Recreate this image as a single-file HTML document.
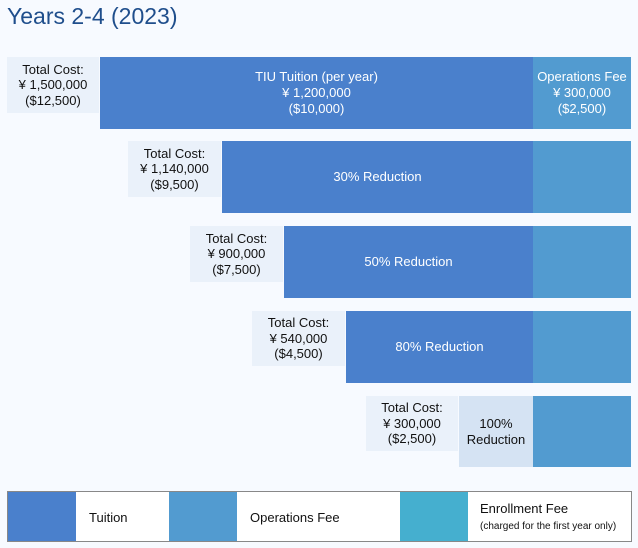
<!DOCTYPE html>
<html><head><meta charset="utf-8"><style>
body{margin:0;width:638px;height:548px;background:#f7faff;font-family:"Liberation Sans","Noto Sans CJK JP",sans-serif;position:relative;overflow:hidden}
div{position:absolute;box-sizing:border-box}
.t{background:#4a80cc;color:#fff;display:flex;align-items:center;justify-content:center;text-align:center;font-size:13px;line-height:16px}
.o{background:#529bd0;color:#fff;display:flex;align-items:center;justify-content:center;text-align:center;font-size:13px;line-height:16px}
.l{background:#eaf1fa;color:#111;display:flex;align-items:center;justify-content:center;text-align:center;font-size:13px;line-height:15.5px}
.lt{font-size:13px;color:#111}
</style></head><body>
<div style="left:7px;top:3px;font-size:23px;color:#1f4e8c;">Years 2-4 (2023)</div>

<div class="l" style="left:7px;top:57px;width:92px;height:56px">Total Cost:<br>¥ 1,500,000<br>($12,500)</div>
<div class="t" style="left:100px;top:57px;width:433px;height:72px">TIU Tuition (per year)<br>¥ 1,200,000<br>($10,000)</div>
<div class="o" style="left:533px;top:57px;width:98px;height:72px">Operations Fee<br>¥ 300,000<br>($2,500)</div>

<div class="l" style="left:128px;top:141px;width:93px;height:56px">Total Cost:<br>¥ 1,140,000<br>($9,500)</div>
<div class="t" style="left:222px;top:141px;width:311px;height:72px">30% Reduction</div>
<div class="o" style="left:533px;top:141px;width:98px;height:72px"></div>

<div class="l" style="left:190px;top:226px;width:93px;height:56px">Total Cost:<br>¥ 900,000<br>($7,500)</div>
<div class="t" style="left:284px;top:226px;width:249px;height:72px">50% Reduction</div>
<div class="o" style="left:533px;top:226px;width:98px;height:72px"></div>

<div class="l" style="left:252px;top:311px;width:93px;height:55px">Total Cost:<br>¥ 540,000<br>($4,500)</div>
<div class="t" style="left:346px;top:311px;width:187px;height:72px">80% Reduction</div>
<div class="o" style="left:533px;top:311px;width:98px;height:72px"></div>

<div class="l" style="left:366px;top:396px;width:92px;height:55px">Total Cost:<br>¥ 300,000<br>($2,500)</div>
<div class="l" style="left:459px;top:396px;width:74px;height:71px;background:#d5e3f3">100%<br>Reduction</div>
<div class="o" style="left:533px;top:396px;width:98px;height:71px"></div>

<div style="left:7px;top:491px;width:625px;height:51px;border:1px solid #888;background:#fff">
  <div style="left:0;top:0;width:68px;height:49px;background:#4a80cc"></div>
  <div class="lt" style="left:81px;top:18px">Tuition</div>
  <div style="left:161px;top:0;width:68px;height:49px;background:#529bd0"></div>
  <div class="lt" style="left:242px;top:18px">Operations Fee</div>
  <div style="left:392px;top:0;width:68px;height:49px;background:#45afcf"></div>
  <div class="lt" style="left:472px;top:9px">Enrollment Fee</div>
  <div style="left:472px;top:29px;font-size:10px;color:#111">(charged for the first year only)</div>
</div>
</body></html>
